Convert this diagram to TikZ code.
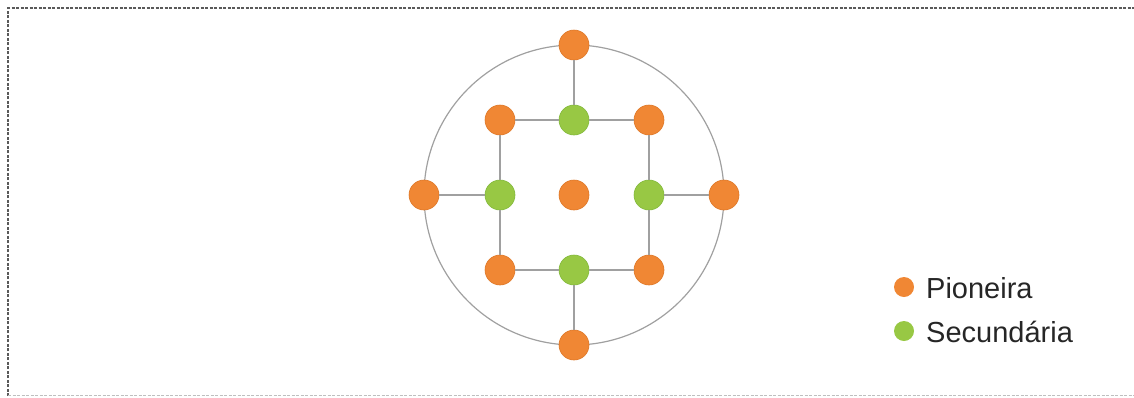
\documentclass[tikz,border=0pt]{standalone}
\usepackage{fontspec}
\setmainfont{Liberation Sans}
\definecolor{pion}{RGB}{240,135,52}
\definecolor{pionb}{RGB}{222,120,40}
\definecolor{secu}{RGB}{152,200,68}
\definecolor{secub}{RGB}{130,185,60}
\definecolor{linegray}{RGB}{160,160,160}
\definecolor{framegray}{RGB}{90,90,90}
\begin{document}
\begin{tikzpicture}[x=1pt,y=-1pt,
  pnode/.style={circle,fill=pion,draw=pionb,line width=0.6pt,minimum size=30pt,inner sep=0pt},
  snode/.style={circle,fill=secu,draw=secub,line width=0.6pt,minimum size=30pt,inner sep=0pt},
  ldot/.style={circle,inner sep=0pt,minimum size=20pt},
  link/.style={draw=linegray,line width=1.2pt},
  ltext/.style={anchor=base west,font=\fontsize{29}{32}\selectfont,text=black!85,inner sep=0pt}]
\useasboundingbox (0,0) rectangle (1134,397);
\draw[framegray,dash pattern=on 3pt off 1.5pt,line width=1.3pt] (8,396) -- (8,8) -- (1134,8);
\draw[black!25,dash pattern=on 3pt off 1.5pt,line width=0.8pt] (8,395) -- (1134,395);
\coordinate (c) at (574,195);
\draw[link] (c) circle (150);
\node[pnode] (t) at (574,45) {};
\node[pnode] (b) at (574,345) {};
\node[pnode] (l) at (424,195) {};
\node[pnode] (r) at (724,195) {};
\node[pnode] (tl) at (500,120) {};
\node[snode] (tm) at (574,120) {};
\node[pnode] (tr) at (649,120) {};
\node[snode] (ml) at (500,195) {};
\node[pnode] (mm) at (574,195) {};
\node[snode] (mr) at (649,195) {};
\node[pnode] (bl) at (500,270) {};
\node[snode] (bm) at (574,270) {};
\node[pnode] (br) at (649,270) {};
\draw[link] (t) -- (tm) (tl) -- (tm) -- (tr) (tr) -- (mr) -- (br) (br) -- (bm) -- (bl) (bl) -- (ml) -- (tl)
  (l) -- (ml) (mr) -- (r) (bm) -- (b);
\node[ldot,fill=pion] (lp) at (904,287) {};
\node[ldot,fill=secu] (ls) at (904,331) {};
\node[ltext] (tp) at (926,298) {Pioneira};
\node[ltext] (ts) at (926,342) {Secundária};
\end{tikzpicture}
\end{document}
